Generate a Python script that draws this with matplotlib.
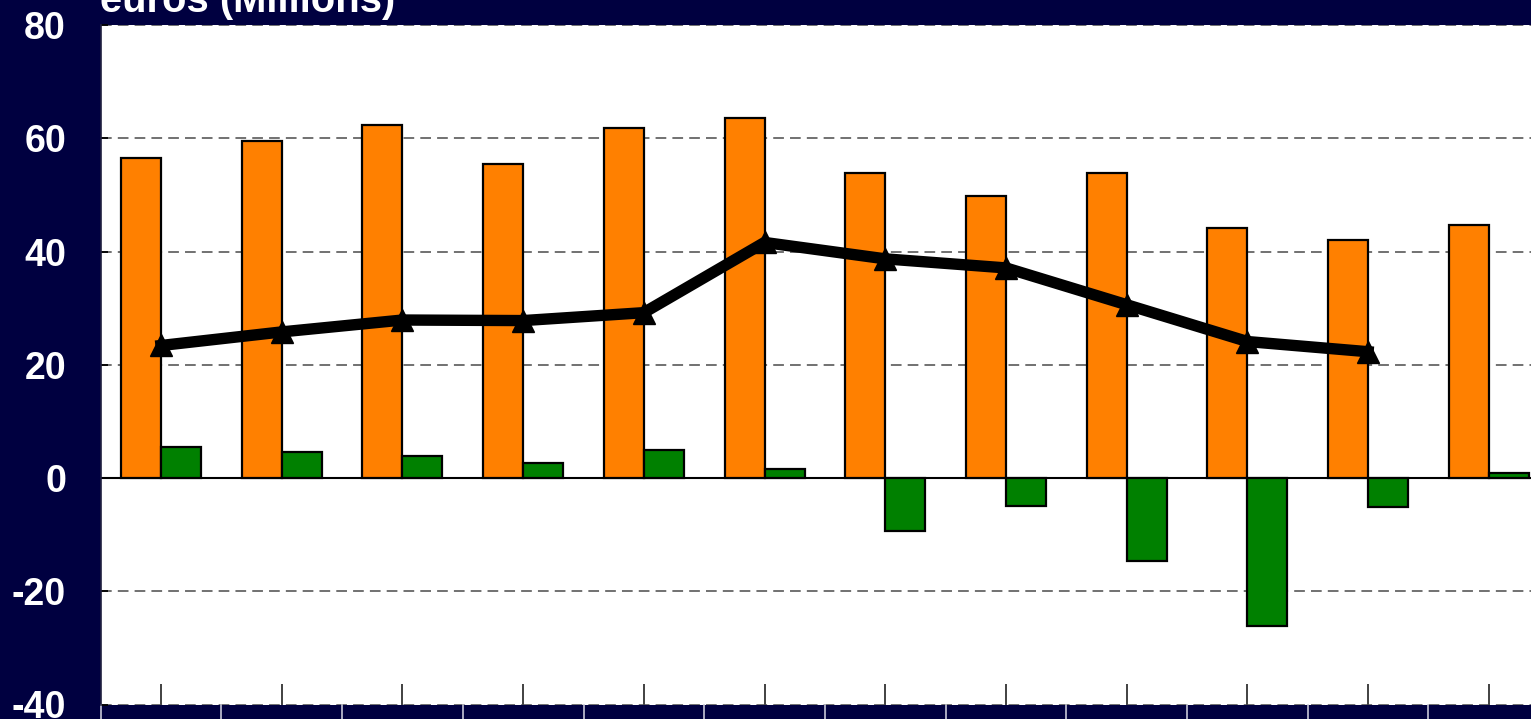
import numpy as np
import matplotlib
matplotlib.use("Agg")
import matplotlib.pyplot as plt

plt.rcParams['font.family'] = ['Liberation Sans', 'DejaVu Sans']
plt.rcParams['axes.unicode_minus'] = False

# values (euros, millions)
periods = list(range(12))
orange_vals = [56.6, 59.5, 62.4, 55.5, 61.8, 63.5, 53.9, 49.8, 53.9, 44.2, 42.1, 44.7]
green_vals = [5.4, 4.6, 3.8, 2.7, 5.0, 1.6, -9.4, -4.9, -14.6, -26.2, -5.1, 0.9]
line_vals = [23.4, 25.8, 27.9, 27.8, 29.2, 41.6, 38.7, 37.1, 30.6, 24.1, 22.3]

NAVY = '#000040'
ORANGE = '#FF8000'
GREEN = '#008000'

W, H = 1531, 719
fig = plt.figure(figsize=(W / 100, H / 100), dpi=100, facecolor=NAVY)

left = 100.7 / W
bottom = (H - 704.5) / H
height = (704.5 - 25.0) / H
width = 12 * 120.7 / W
ax = fig.add_axes([left, bottom, width, height])
ax.set_facecolor('white')

x = np.array(periods)
bw = 0.331
ax.bar(x - bw / 2, orange_vals, width=bw, color=ORANGE, edgecolor='black', linewidth=1.6, zorder=3)
ax.bar(x + bw / 2, green_vals, width=bw, color=GREEN, edgecolor='black', linewidth=1.6, zorder=3)
ax.plot(x[:len(line_vals)], line_vals, color='black', lw=8.2, marker='^', ms=16, zorder=4)

ax.set_xlim(-0.5, 11.5)
ax.set_ylim(-40, 80)
ax.set_yticks(range(-40, 81, 20))
ax.yaxis.grid(True, color='#4a4a4a', linestyle=(0, (7, 4)), linewidth=1.1, zorder=1)
ax.axhline(0, color='black', lw=1.5, zorder=2)

ax.set_xticks(x)
ax.set_xticklabels([])
ax.tick_params(axis='x', direction='in', length=15, width=1.3, color='#333333')
ax.tick_params(axis='y', direction='in', length=5, width=1.3, color='black',
               labelcolor='white', labelsize=27, pad=25)
for lab in ax.get_yticklabels():
    lab.set_fontweight('bold')

for s in ['top', 'right', 'bottom']:
    ax.spines[s].set_visible(False)
ax.spines['left'].set_color('#202040')
ax.spines['left'].set_linewidth(1.2)

# separators of the (cropped) category label band below the axis
tr = ax.get_xaxis_transform()
for b in np.arange(-0.5, 12, 1.0):
    ax.plot([b, b], [-0.001, -0.05], transform=tr, color='#c8c8d8', lw=1.2, clip_on=False)

fig.text(100 / W, 1 - 12 / H, 'euros (Millions)', color='white', fontsize=28.8,
         fontweight='bold', ha='left', va='baseline')

fig.savefig('out.png', dpi=100, facecolor=NAVY)
